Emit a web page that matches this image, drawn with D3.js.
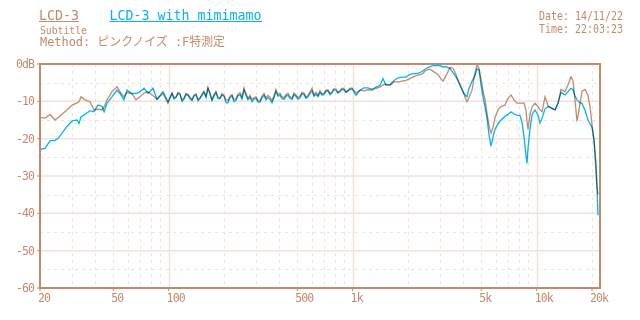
<!DOCTYPE html>
<html lang="ja">
<head>
<meta charset="utf-8">
<script src="https://d3js.org/d3.v7.min.js"></script>
<style>
  body { margin: 0; background: #fff; }
  text { font-family: "DejaVu Sans Mono", "Noto Sans CJK JP", monospace; }
</style>
</head>
<body>
<script>
// frequency points (Hz)
var freqs = [20, 21.3, 22.7, 24.1, 25.1, 26.7, 28.0, 29.9, 31.8, 32.6, 33.4, 35.1, 37.4, 39.3, 41.3, 43.5, 44.6, 46.3, 49.2, 52.4,
  54.4, 57.2, 59.4, 63.2, 66.5, 69.9, 73.5, 77.3, 82.3, 86.5, 93.2, 99.2,
  104.4, 107.0, 109.7, 112.5, 115.3, 118.3, 121.2, 124.3, 127.5, 130.7,
  134.0, 137.4, 140.8, 144.5, 148.0, 151.9, 155.6, 159.7, 163.6, 167.9,
  172.0, 176.5, 180.8, 185.5, 190.2, 195.1, 200, 205.1, 210.3, 215.6,
  221.0, 226.7, 232.4, 238.3, 244.3, 250.5, 256.8, 263.4, 269.9, 276.9,
  283.8, 291.1, 298.5, 306.0, 313.8, 321.8, 329.9, 338.3, 346.8, 355.6,
  364.6, 373.9, 383.3, 393.1, 402.9, 413.3, 423.6, 434.5, 445.3, 456.8,
  468.1, 480.2, 492.2, 504.9, 517.4, 530.8, 544.4, 558.0, 572.3, 586.7,
  601.7, 616.8, 632.5, 648.4, 664.9, 681.7, 699.1, 716.7, 735.0, 753.5,
  772.7, 792.1, 812.2, 832.8, 854.0, 875.5, 897.8, 920.5, 944.1, 967.7,
  992.5,
  1044, 1097, 1153, 1212, 1275, 1340, 1408, 1462, 1518, 1597, 1679, 1765, 1856, 1951, 2051, 2156, 2267, 2383, 2505, 2634,
  2769, 2911, 3022, 3099, 3217, 3382, 3512, 3646, 3786, 3931, 4082, 4185, 4291, 4455, 4626, 4743, 4863, 4986, 5113, 5243,
  5376, 5512, 5651, 5795, 5942, 6169, 6405, 6734, 6991, 7258, 7535, 7823, 8122, 8328, 8540, 8756, 8866, 8978, 9206, 9441,
  9802, 10177, 10437, 10701, 11110, 11535, 12124, 12588, 13068, 13569, 14265, 14804, 15373, 15763, 16162, 16573, 16994, 17646, 18322, 19024,
  19506, 20000, 20506, 21026, 21290, 21558];

// LCD-3 (dB)
var lcd3 = [-14.3, -14.5, -13.5, -15.0, -14.3, -13.2, -12.3, -11.0, -10.4, -10.1, -8.8, -9.6, -10.1, -12.3, -12.1, -12.3, -11.5, -9.6, -7.4, -6.1,
  -7.4, -8.8, -7.6, -8.0, -9.6, -8.8, -7.8, -7.4, -8.5, -9.4, -7.9, -10.5,
  -7.7, -9.0, -8.8, -7.6, -8.0, -9.6, -9.1, -7.9, -8.2, -8.9,
  -9.5, -8.3, -8.0, -9.4, -9.1, -8.0, -7.3, -8.6, -6.2, -7.8,
  -9.5, -8.2, -7.3, -8.8, -9.1, -7.9, -8.4, -9.6, -9.8, -8.6,
  -8.2, -9.6, -9.3, -8.1, -7.7, -8.9, -6.4, -8.0, -9.2, -8.4,
  -9.5, -9.0, -8.8, -9.8, -9.9, -8.6, -7.9, -9.1, -8.4, -8.9,
  -9.8, -8.5, -6.8, -8.2, -7.9, -8.8, -9.0, -8.2, -7.9, -8.8,
  -9.1, -7.8, -8.3, -9.0, -8.6, -7.6, -7.8, -8.9, -8.4, -7.4,
  -6.5, -8.3, -7.6, -8.4, -7.2, -8.0, -7.8, -7.0, -6.9, -7.9,
  -7.4, -6.6, -6.7, -7.6, -7.2, -6.5, -6.6, -7.5, -7.1, -6.5,
  -6.4,
  -7.8, -7.0, -7.2, -6.9, -7.0, -6.5, -6.2, -5.6, -5.4, -5.7, -4.8, -4.8, -4.6, -4.4, -3.9, -3.3, -3.0, -2.7, -1.7, -1.4,
  -2.1, -2.8, -4.0, -4.6, -3.2, -0.9, -1.2, -2.8, -5.0, -6.6, -8.9, -10.1, -9.0, -7.0, -2.3, -0.3, -1.2, -4.0, -7.3, -9.6,
  -13.3, -16.5, -18.5, -17.0, -14.3, -12.3, -11.4, -11.0, -9.2, -8.3, -9.6, -10.5, -10.5, -10.5, -10.5, -12.5, -15.5, -17.5, -13.5, -11.5,
  -10.5, -11.4, -12.3, -12.8, -8.8, -11.2, -11.9, -12.3, -10.5, -6.8, -7.4, -5.6, -3.4, -4.5, -9.6, -15.4, -12.3, -7.3, -6.8, -8.5,
  -11.4, -16.3, -20.4, -29.3, -33.0, -35.0];

// LCD-3 with mimimamo (dB)
var mimimamo = [-22.9, -22.6, -20.5, -20.5, -19.9, -18.1, -16.8, -15.2, -15.0, -15.9, -14.2, -13.5, -12.5, -12.8, -11.0, -11.3, -12.8, -10.5, -8.8, -7.0,
  -7.9, -9.6, -7.0, -7.9, -7.9, -7.4, -6.5, -7.9, -6.5, -9.5, -7.4, -10.1,
  -7.9, -9.4, -9.0, -7.9, -8.1, -10.0, -9.4, -8.2, -8.4, -9.3,
  -9.8, -8.6, -8.3, -9.9, -9.2, -8.4, -7.6, -9.0, -6.6, -8.1,
  -9.8, -8.6, -7.7, -9.3, -9.3, -8.3, -8.6, -10.4, -10.4, -9.0,
  -8.6, -10.1, -9.8, -8.5, -8.2, -9.4, -7.0, -8.4, -9.6, -8.9,
  -10.1, -9.4, -9.2, -10.2, -10.2, -9.0, -8.4, -9.6, -9.0, -9.5,
  -10.4, -9.0, -7.4, -8.6, -8.4, -9.3, -9.5, -8.6, -8.4, -9.2,
  -9.5, -8.2, -8.7, -9.4, -9.1, -8.0, -8.2, -9.2, -8.8, -7.9,
  -7.2, -8.6, -8.1, -8.7, -7.6, -8.3, -8.2, -7.3, -7.3, -8.2,
  -7.7, -6.9, -7.1, -7.8, -7.4, -6.8, -6.9, -7.6, -7.2, -6.8,
  -6.7,
  -8.4, -7.0, -6.4, -6.4, -6.8, -6.2, -5.7, -3.9, -5.7, -5.5, -4.4, -3.7, -3.5, -3.5, -2.8, -2.6, -2.5, -2.0, -1.2, -0.7,
  -0.4, -0.4, -0.5, -0.8, -0.7, -1.2, -2.3, -3.5, -5.0, -7.0, -8.3, -8.8, -6.5, -4.6, -3.0, -1.3, -1.6, -5.6, -8.8, -11.5,
  -14.5, -19.0, -22.0, -19.5, -17.5, -16.0, -15.0, -14.0, -13.5, -12.8, -13.4, -13.7, -13.8, -15.6, -19.5, -24.5, -26.6, -22.5, -17.5, -13.5,
  -12.3, -13.7, -15.8, -14.5, -12.0, -11.4, -11.9, -12.3, -10.5, -7.6, -8.3, -7.4, -6.5, -6.9, -8.6, -9.6, -10.2, -10.6, -12.4, -15.0,
  -16.0, -17.0, -20.4, -26.6, -33.0, -40.5];

var xTicks = [20, 50, 100, 500, 1000, 5000, 10000, 20000];
var xTickLabels = ["20", "50", "100", "500", "1k", "5k", "10k", "20k"];
var yTicks = [0, -10, -20, -30, -40, -50, -60];
var yTickLabels = ["0dB", "-10", "-20", "-30", "-40", "-50", "-60"];

var width = 640, height = 320;
var brown = "#c08b6d", blue = "#06b2f0", grid = "#f0e1da";
var margin = {left: 40, right: 40, top: 64, bottom: 32};

var x = d3.scaleLog().domain([20, 22100]).range([margin.left, width - margin.right]);
var y = d3.scaleLinear().domain([-60, 0]).range([height - margin.bottom, margin.top]);

var svg = d3.select("body").append("svg")
    .attr("width", width)
    .attr("height", height);

svg.append("clipPath").attr("id", "plot")
  .append("rect")
    .attr("x", x.range()[0]).attr("y", y.range()[1])
    .attr("width", x.range()[1] - x.range()[0])
    .attr("height", y.range()[0] - y.range()[1]);

// grid
var minor = [30, 40, 50, 60, 70, 80, 90, 200, 300, 400, 500, 600, 700, 800, 900,
  2000, 3000, 4000, 5000, 6000, 7000, 8000, 9000, 20000];
var major = [100, 1000, 10000];
svg.selectAll(".vminor").data(minor).enter().append("line")
    .attr("x1", d => Math.round(x(d)) + 0.5).attr("x2", d => Math.round(x(d)) + 0.5)
    .attr("y1", y(0)).attr("y2", y(-60))
    .attr("stroke", grid).attr("stroke-dasharray", "3,4");
svg.selectAll(".vmajor").data(major).enter().append("line")
    .attr("x1", d => Math.round(x(d)) + 0.5).attr("x2", d => Math.round(x(d)) + 0.5)
    .attr("y1", y(0)).attr("y2", y(-60))
    .attr("stroke", grid).attr("stroke-width", 1.5);
svg.selectAll(".hminor").data([-5, -15, -25, -35, -45, -55]).enter().append("line")
    .attr("x1", x(20)).attr("x2", x(22100))
    .attr("y1", d => Math.round(y(d)) + 0.5).attr("y2", d => Math.round(y(d)) + 0.5)
    .attr("stroke", grid).attr("stroke-dasharray", "3,4");
svg.selectAll(".hmajor").data([-10, -20, -30, -40, -50]).enter().append("line")
    .attr("x1", x(20)).attr("x2", x(22100))
    .attr("y1", d => y(d)).attr("y2", d => y(d))
    .attr("stroke", grid).attr("stroke-width", 1.5);

// curves
var line = d3.line()
    .x(d => x(d[0]))
    .y(d => y(d[1]));

var g = svg.append("g").attr("clip-path", "url(#plot)");
[[lcd3, brown], [mimimamo, blue]].forEach(function(s) {
  g.append("path")
    .datum(freqs.map((f, i) => [f, s[0][i]]))
    .attr("d", line)
    .attr("fill", "none")
    .attr("stroke", s[1])
    .attr("stroke-width", 1.3)
    .style("mix-blend-mode", "multiply");
});

// frame
svg.append("rect")
    .attr("x", x.range()[0]).attr("y", y.range()[1])
    .attr("width", x.range()[1] - x.range()[0])
    .attr("height", y.range()[0] - y.range()[1])
    .attr("fill", "none")
    .attr("stroke", brown)
    .attr("stroke-width", 2);

// ticks + labels
svg.selectAll(".xt").data(xTicks).enter().append("line")
    .attr("x1", d => x(d)).attr("x2", d => x(d))
    .attr("y1", y(-60)).attr("y2", y(-60) + 3)
    .attr("stroke", brown);
svg.selectAll(".xl").data(xTicks).enter().append("text")
    .attr("x", d => x(d) - 2)
    .attr("y", 302)
    .attr("font-size", 11.5)
    .attr("letter-spacing", "-0.9px")
    .attr("fill", brown)
    .text((d, i) => xTickLabels[i]);
svg.selectAll(".yt").data(yTicks).enter().append("line")
    .attr("x1", x(20) - 3).attr("x2", x(20))
    .attr("y1", d => y(d)).attr("y2", d => y(d))
    .attr("stroke", brown);
svg.selectAll(".yl").data(yTicks).enter().append("text")
    .attr("x", 34)
    .attr("y", d => y(d) + 4)
    .attr("text-anchor", "end")
    .attr("font-size", 11.5)
    .attr("letter-spacing", "-0.9px")
    .attr("fill", brown)
    .text((d, i) => yTickLabels[i]);

// header
function label(txt, px, py, size, len, color) {
  var t = svg.append("text")
      .attr("x", px).attr("y", py)
      .attr("font-size", size)
      .attr("fill", color)
      .text(txt);
  if (len) t.attr("textLength", len).attr("lengthAdjust", "spacingAndGlyphs");
  return t;
}
label("LCD-3", 39, 20, 14, 40, brown);
svg.append("line").attr("x1", 39).attr("x2", 79).attr("y1", 21.5).attr("y2", 21.5).attr("stroke", brown);
label("LCD-3 with mimimamo", 109.5, 20, 14, 152, blue);
svg.append("line").attr("x1", 109.5).attr("x2", 262).attr("y1", 21.5).attr("y2", 21.5).attr("stroke", blue);
label("Subtitle", 40, 33.5, 11, 47, brown);
label("Method:  ピンクノイズ  :F特測定", 40, 46, 12, 185, brown);
label("Date: 14/11/22", 539, 20, 11.5, 84, brown);
label("Time: 22:03:23", 539, 33, 11.5, 84, brown);
</script>
</body>
</html>
